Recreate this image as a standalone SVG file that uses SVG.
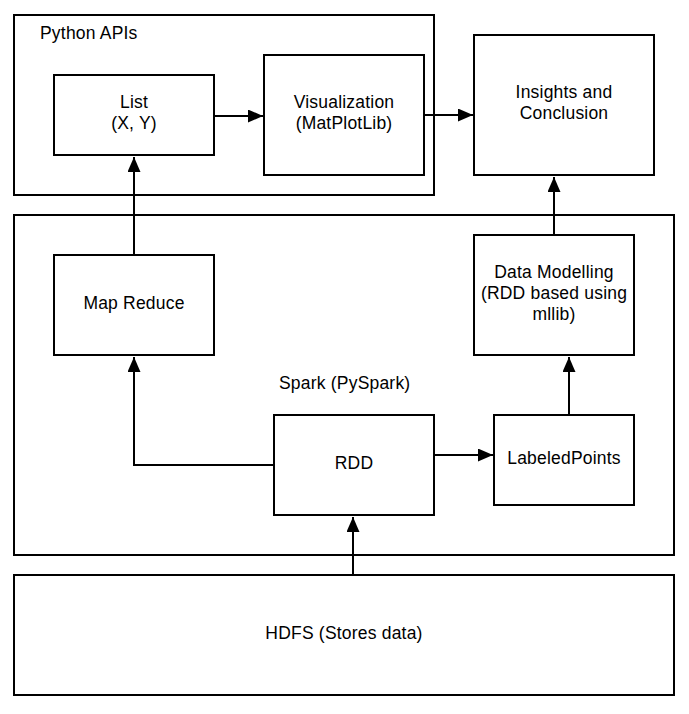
<svg xmlns="http://www.w3.org/2000/svg" width="689" height="714" viewBox="0 0 689 714">
<style>
.box{fill:#fff;stroke:#000;stroke-width:2}
.grp{fill:none;stroke:#000;stroke-width:2}
.t{font-family:"Liberation Sans",Arial,sans-serif;font-size:17.5px;letter-spacing:0.2px;fill:#000;text-anchor:middle}
.tl{font-family:"Liberation Sans",Arial,sans-serif;font-size:17.5px;letter-spacing:0.2px;fill:#000}
.c{fill:none;stroke:#000;stroke-width:2}
</style>
<defs>
<marker id="ah" markerUnits="userSpaceOnUse" markerWidth="16" markerHeight="13" viewBox="0 0 16 13" refX="15" refY="6.5" orient="auto">
<path d="M0,0 L15,6.5 L0,13 Z" fill="#000"/>
</marker>
</defs>
<rect width="689" height="714" fill="#fff"/>
<g id="python-apis">
<rect class="grp" x="14" y="15" width="420" height="180"/>
<text class="tl" x="40" y="39">Python APIs</text>
</g>
<g id="spark">
<rect class="grp" x="14" y="215" width="660" height="340"/>
<text class="tl" x="279" y="389">Spark (PySpark)</text>
</g>
<g id="hdfs">
<rect class="box" x="14" y="575" width="660" height="120"/>
<text class="t" x="344" y="639">HDFS (Stores data)</text>
</g>
<g id="list">
<rect class="box" x="54" y="75" width="160" height="80"/>
<text class="t" x="134" y="108">List</text>
<text class="t" x="134" y="129">(X, Y)</text>
</g>
<g id="visualization">
<rect class="box" x="264" y="55" width="160" height="120"/>
<text class="t" x="344" y="108">Visualization</text>
<text class="t" x="344" y="129">(MatPlotLib)</text>
</g>
<g id="insights">
<rect class="box" x="474" y="35" width="180" height="140"/>
<text class="t" x="564" y="98">Insights and</text>
<text class="t" x="564" y="119">Conclusion</text>
</g>
<g id="map-reduce">
<rect class="box" x="54" y="255" width="160" height="100"/>
<text class="t" x="134" y="309">Map Reduce</text>
</g>
<g id="data-modelling">
<rect class="box" x="474" y="235" width="160" height="120"/>
<text class="t" x="554" y="278">Data Modelling</text>
<text class="t" x="554" y="299">(RDD based using</text>
<text class="t" x="554" y="320">mllib)</text>
</g>
<g id="rdd">
<rect class="box" x="274" y="415" width="160" height="100"/>
<text class="t" x="354" y="469">RDD</text>
</g>
<g id="labeled-points">
<rect class="box" x="494" y="415" width="140" height="90"/>
<text class="t" x="564" y="464">LabeledPoints</text>
</g>
<g id="connectors">
<path class="c" d="M214,116 L263,116" marker-end="url(#ah)"/>
<path class="c" d="M424,115 L473,115" marker-end="url(#ah)"/>
<path class="c" d="M134,255 L134,157" marker-end="url(#ah)"/>
<path class="c" d="M274,465 L134,465 L134,357" marker-end="url(#ah)"/>
<path class="c" d="M434,455 L493,455" marker-end="url(#ah)"/>
<path class="c" d="M569,415 L569,357" marker-end="url(#ah)"/>
<path class="c" d="M554,235 L554,177" marker-end="url(#ah)"/>
<path class="c" d="M353,575 L353,517" marker-end="url(#ah)"/>
</g>
</svg>
